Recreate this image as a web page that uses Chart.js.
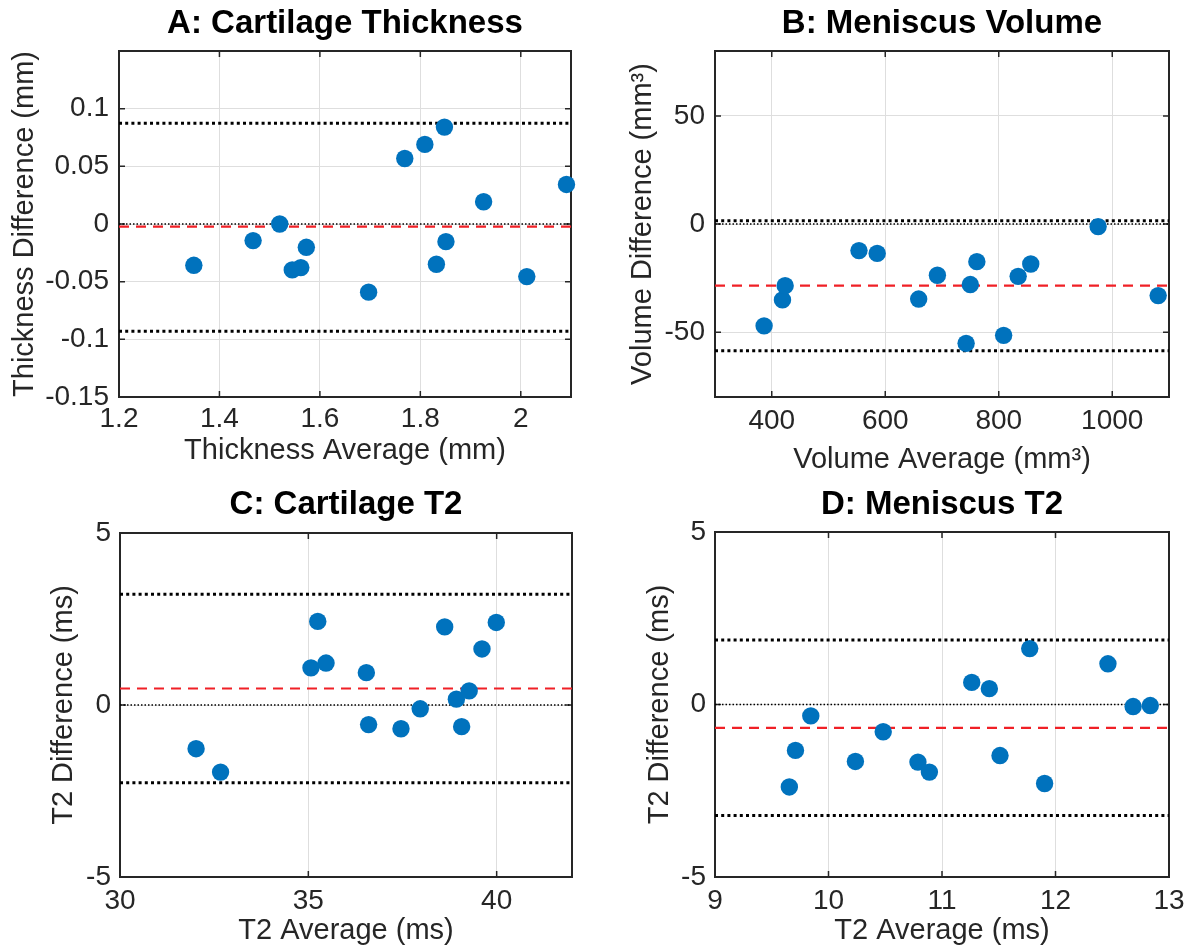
<!DOCTYPE html>
<html><head><meta charset="utf-8">
<script src="https://cdn.jsdelivr.net/npm/chart.js@4.4.1/dist/chart.umd.min.js"></script>
<style>
html,body{margin:0;padding:0;background:#fff;overflow:hidden;width:1197px;height:947px;}
.panel{position:absolute;}
canvas{display:block;}
</style></head><body>
<div class="panel" style="left:0px;top:0px"><canvas id="cA" width="598" height="473" style="width:598px;height:473px"></canvas></div>
<div class="panel" style="left:598px;top:0px"><canvas id="cB" width="599" height="480" style="width:599px;height:480px"></canvas></div>
<div class="panel" style="left:0px;top:480px"><canvas id="cC" width="598" height="473" style="width:598px;height:473px"></canvas></div>
<div class="panel" style="left:598px;top:480px"><canvas id="cD" width="599" height="473" style="width:599px;height:473px"></canvas></div>
<script>
// ---------- Panel A: Cartilage Thickness ----------
const xA = [1.349, 1.467, 1.520, 1.545, 1.562, 1.573, 1.697, 1.769, 1.809, 1.848, 1.832, 1.851, 1.926, 2.012, 2.091];
const yA = [-0.0358, -0.0144, 0.0, -0.0398, -0.0378, -0.0202, -0.0591, 0.0568, 0.0690, 0.0840, -0.0349, -0.0153, 0.0193, -0.0456, 0.0343];
const meanA = -0.0023;
const loaA = [-0.0929, 0.0874];
const xRangeA = [1.2, 2.1];
const yRangeA = [-0.15, 0.15];
const xTicksA = [1.2, 1.4, 1.6, 1.8, 2];
const yTicksA = [-0.15, -0.1, -0.05, 0, 0.05, 0.1];

// ---------- Panel B: Meniscus Volume ----------
const xB = [386.5, 418.9, 423.6, 553.7, 585.8, 658.9, 691.9, 742.5, 749.9, 761.4, 808.6, 834.2, 856.4, 975.1, 1080.9];
const yB = [-47.1, -35.1, -28.5, -12.3, -13.6, -34.7, -23.7, -55.2, -28.0, -17.4, -51.5, -24.2, -18.5, -1.2, -33.1];
const meanB = -28.5;
const loaB = [-58.6, 1.5];
const xRangeB = [300, 1100];
const yRangeB = [-80, 80];
const xTicksB = [400, 600, 800, 1000];
const yTicksB = [-50, 0, 50];

// ---------- Panel C: Cartilage T2 ----------
const xC = [32.02, 32.67, 35.07, 35.25, 35.47, 36.54, 36.60, 37.46, 37.97, 38.62, 38.93, 39.07, 39.27, 39.61, 39.99];
const yC = [-1.27, -1.95, 1.08, 2.43, 1.22, 0.94, -0.57, -0.69, -0.11, 2.27, 0.17, -0.63, 0.41, 1.63, 2.40];
const meanC = 0.48;
const loaC = [-2.26, 3.22];
const xRangeC = [30, 42];
const yRangeC = [-5, 5];
const xTicksC = [30, 35, 40];
const yTicksC = [-5, 0, 5];

// ---------- Panel D: Meniscus T2 ----------
const xD = [9.655, 9.709, 9.844, 10.237, 10.482, 10.788, 10.889, 11.262, 11.417, 11.511, 11.773, 11.904, 12.462, 12.684, 12.835];
const yD = [-2.39, -1.33, -0.33, -1.65, -0.79, -1.67, -1.96, 0.64, 0.46, -1.48, 1.62, -2.29, 1.18, -0.06, -0.03];
const meanD = -0.68;
const loaD = [-3.22, 1.87];
const xRangeD = [9, 13];
const yRangeD = [-5, 5];
const xTicksD = [9, 10, 11, 12, 13];
const yTicksD = [-5, 0, 5];

const titles = ['A: Cartilage Thickness', 'B: Meniscus Volume', 'C: Cartilage T2', 'D: Meniscus T2'];
const xTitles = ['Thickness Average (mm)', 'Volume Average (mm³)', 'T2 Average (ms)', 'T2 Average (ms)'];
const yTitles = ['Thickness Difference (mm)', 'Volume Difference (mm³)', 'T2 Difference (ms)', 'T2 Difference (ms)'];

Chart.defaults.font.family = "'Liberation Sans', Arial, Helvetica, sans-serif";
Chart.defaults.color = '#262626';

const framePlugin = {
  id: 'frame',
  beforeDatasetsDraw(chart) {
    const {ctx, chartArea: a, scales} = chart;
    ctx.save();
    ctx.strokeStyle = '#262626';
    ctx.lineWidth = 1.5;
    const tl = 6;
    ctx.beginPath();
    scales.x.ticks.forEach(t => {
      const p = scales.x.getPixelForValue(t.value);
      ctx.moveTo(p, a.bottom); ctx.lineTo(p, a.bottom - tl);
      ctx.moveTo(p, a.top); ctx.lineTo(p, a.top + tl);
    });
    scales.y.ticks.forEach(t => {
      const p = scales.y.getPixelForValue(t.value);
      ctx.moveTo(a.left, p); ctx.lineTo(a.left + tl, p);
      ctx.moveTo(a.right, p); ctx.lineTo(a.right - tl, p);
    });
    ctx.stroke();
    ctx.lineWidth = 2;
    ctx.strokeRect(a.left, a.top, a.right - a.left, a.bottom - a.top);
    ctx.restore();
  }
};

function hline(xr, v, style) {
  return Object.assign({
    type: 'line',
    data: [{x: xr[0], y: v}, {x: xr[1], y: v}],
    pointRadius: 0,
    fill: false,
    borderColor: '#000',
  }, style);
}

function makePanel(id, d, L) {
  const pts = d.x.map((v, i) => ({x: v, y: d.y[i]}));
  new Chart(document.getElementById(id), {
    type: 'scatter',
    data: {
      datasets: [
        {type: 'scatter', data: pts, pointRadius: 8.7, pointHoverRadius: 8.7,
         backgroundColor: '#0072BD', borderColor: '#0072BD', borderWidth: 0, clip: false},
        hline(d.xr, d.mean, {borderColor: 'rgb(240,32,38)', borderWidth: 2.2, borderDash: [10, 7]}),
        hline(d.xr, d.loa[0], {borderWidth: 3, borderDash: [3, 3.2]}),
        hline(d.xr, d.loa[1], {borderWidth: 3, borderDash: [3, 3.2]}),
        hline(d.xr, 0, {borderWidth: 1.5, borderDash: [1.5, 2]})
      ]
    },
    options: {
      responsive: false,
      animation: false,
      events: [],
      layout: {padding: {left: 0, right: L.padR, top: 0, bottom: 0}},
      plugins: {
        legend: {display: false},
        tooltip: {enabled: false},
        title: {
          display: true, text: d.title, fullSize: false, color: '#000',
          font: {size: 33, weight: 'bold', lineHeight: 1.2},
          padding: {top: L.tPadT, bottom: L.tPadB}
        }
      },
      scales: {
        x: {
          type: 'linear', position: 'bottom', min: d.xr[0], max: d.xr[1],
          afterBuildTicks: s => { s.ticks = d.xt.map(v => ({value: v})); },
          afterFit: s => { s.height = L.xH; },
          grid: {color: '#dedede', lineWidth: 1, drawTicks: false},
          border: {display: false},
          ticks: {autoSkip: false, maxRotation: 0, padding: L.xTickPad, color: '#262626',
                  font: {size: 28, lineHeight: 1.2}, callback: v => String(v)},
          title: {display: true, text: d.xTitle, color: '#262626',
                  font: {size: 29, lineHeight: 1.2}, padding: {top: 0, bottom: L.xTitlePadB}}
        },
        y: {
          type: 'linear', position: 'left', min: d.yr[0], max: d.yr[1],
          afterBuildTicks: s => { s.ticks = d.yt.map(v => ({value: v})); },
          afterFit: s => { s.width = L.yW; },
          grid: {color: '#dedede', lineWidth: 1, drawTicks: false},
          border: {display: false},
          ticks: {autoSkip: false, padding: L.yTickPad, color: '#262626',
                  font: {size: 28, lineHeight: 1.2}, callback: v => String(v)},
          title: {display: true, text: d.yTitle, color: '#262626',
                  font: {size: 29, lineHeight: 1.2}, padding: {top: L.yTitlePadT, bottom: 0}}
        }
      }
    },
    plugins: [framePlugin]
  });
}

makePanel('cA', {x: xA, y: yA, mean: meanA, loa: loaA, xr: xRangeA, yr: yRangeA, xt: xTicksA, yt: yTicksA,
  title: titles[0], xTitle: xTitles[0], yTitle: yTitles[0]},
  {yW: 119, padR: 27, tPadT: 4.2, tPadB: 7.2, xH: 76, xTickPad: 5, xTitlePadB: 4.6, yTitlePadT: 7.4, yTickPad: 10});
makePanel('cB', {x: xB, y: yB, mean: meanB, loa: loaB, xr: xRangeB, yr: yRangeB, xt: xTicksB, yt: yTicksB,
  title: titles[1], xTitle: xTitles[1], yTitle: yTitles[1]},
  {yW: 117, padR: 28, tPadT: 4.2, tPadB: 7.2, xH: 83, xTickPad: 7, xTitlePadB: 2.6, yTitlePadT: 27.6, yTickPad: 10});
makePanel('cC', {x: xC, y: yC, mean: meanC, loa: loaC, xr: xRangeC, yr: yRangeC, xt: xTicksC, yt: yTicksC,
  title: titles[2], xTitle: xTitles[2], yTitle: yTitles[2]},
  {yW: 120, padR: 26, tPadT: 4.9, tPadB: 8.5, xH: 76, xTickPad: 7, xTitlePadB: 4.6, yTitlePadT: 46.6, yTickPad: 9});
makePanel('cD', {x: xD, y: yD, mean: meanD, loa: loaD, xr: xRangeD, yr: yRangeD, xt: xTicksD, yt: yTicksD,
  title: titles[3], xTitle: xTitles[3], yTitle: yTitles[3]},
  {yW: 117, padR: 28, tPadT: 4.9, tPadB: 7.5, xH: 76, xTickPad: 7.5, xTitlePadB: 4.6, yTitlePadT: 44.6, yTickPad: 9});
</script>
</body></html>
